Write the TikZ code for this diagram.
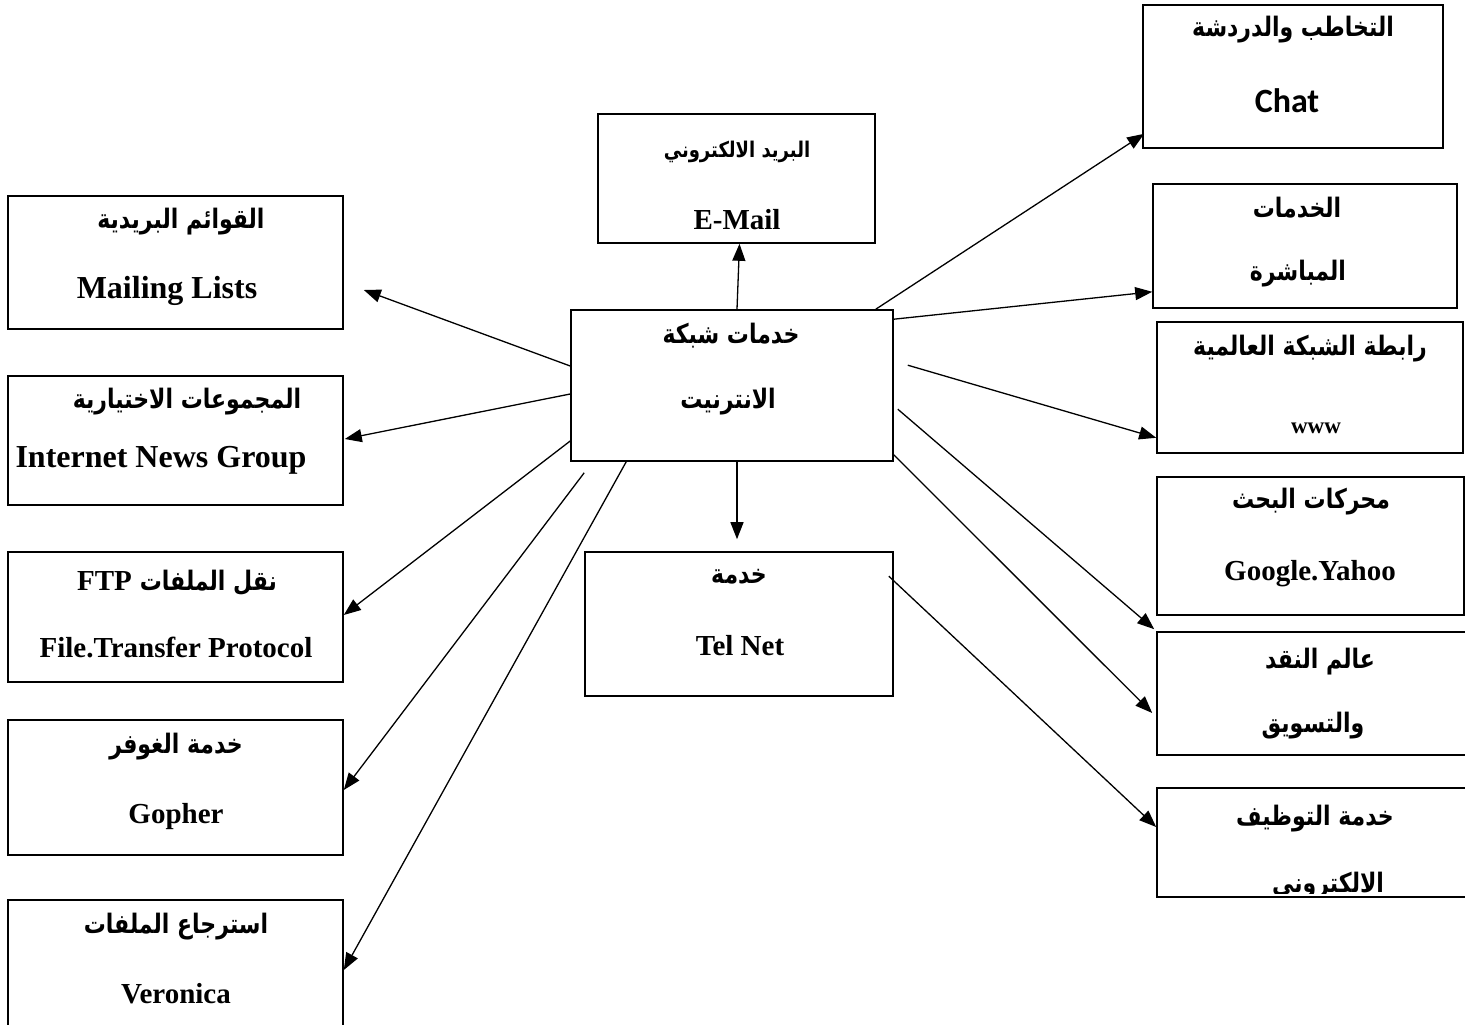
\documentclass[tikz,border=0pt]{standalone}
\usepackage{fontspec}
\setmainfont{Liberation Serif}
\newfontfamily\arabicfont[Script=Arabic]{DejaVu Sans}
\newfontfamily\chatfont{Carlito}
\TeXXeTstate=1
\usetikzlibrary{arrows.meta,fit}

% Arabic label (bold, right to left, slightly tall)
\newcommand{\arb}[1]{\scalebox{1}[1.22]{\arabicfont\bfseries\fontsize{22}{26}\selectfont\beginR #1\endR}}
% Latin label (bold serif)
\newcommand{\lat}[1]{{\bfseries\fontsize{29}{34}\selectfont #1}}

\begin{document}
\begin{tikzpicture}[x=1pt,y=-1pt,
  box/.style={draw, line width=1.6pt, rectangle, inner sep=0pt},
  lbl/.style={inner sep=0pt, anchor=base},
  arr/.style={line width=1.3pt, -{Triangle[length=17pt,width=13pt]}}]
\useasboundingbox (0,0) rectangle (1465,1025);
\clip (0,0) rectangle (1465,1025);

% ---- boxes ----
\node[box, fit={(571,310) (893,461)}] (hub) {};
\node[box, fit={(598,114) (875,243)}] (email) {};
\node[box, fit={(585,552) (893,696)}] (tel) {};

\node[box, fit={(8,196) (343,329)}] (mail) {};
\node[box, fit={(8,376) (343,505)}] (news) {};
\node[box, fit={(8,552) (343,682)}] (ftp) {};
\node[box, fit={(8,720) (343,855)}] (gopher) {};
\node[box, fit={(8,900) (343,1040)}] (vero) {};

\node[box, fit={(1143,5) (1443,148)}] (chat) {};
\node[box, fit={(1153,184) (1457,308)}] (direct) {};
\node[box, fit={(1157,322) (1463,453)}] (www) {};
\node[box, fit={(1157,477) (1464,615)}] (google) {};
\node[box, fit={(1157,632) (1475,755)}] (money) {};
\node[box, fit={(1157,788) (1475,897)}] (hire) {};

% ---- labels ----
\node[lbl] (hubA) at (731,343) {\arb{خدمات شبكة}};
\node[lbl] (hubB) at (728,408) {\arb{الانترنيت}};
\node[lbl] (emailA) at (737,157) {\scalebox{1}[1.2]{\arabicfont\bfseries\fontsize{18}{22}\selectfont\beginR البريد الالكتروني\endR}};
\node[lbl] (emailB) at (737,229) {\lat{E-Mail}};
\node[lbl] (telA) at (739,583) {\arb{خدمة}};
\node[lbl] (telB) at (740,655) {\lat{Tel Net}};

\node[lbl] (mailA) at (181,228) {\arb{القوائم البريدية}};
\node[lbl] (mailB) at (167,298) {{\bfseries\fontsize{32}{36}\selectfont Mailing Lists}};
\node[lbl] (newsA) at (187,408) {\arb{المجموعات الاختيارية}};
\node[lbl] (newsB) at (161,467) {{\bfseries\fontsize{32}{36}\selectfont Internet News Group}};
\node[lbl] (ftpA) at (177,590) {\lat{FTP}\hspace{8pt}\arb{نقل الملفات}};
\node[lbl] (ftpB) at (176,657) {\lat{File.Transfer Protocol}};
\node[lbl] (gopherA) at (176,753) {\arb{خدمة الغوفر}};
\node[lbl] (gopherB) at (176,823) {\lat{Gopher}};
\node[lbl] (veroA) at (176,933) {\arb{استرجاع الملفات}};
\node[lbl] (veroB) at (176,1003) {\lat{Veronica}};

\node[lbl] (chatA) at (1293,37) {\arb{التخاطب والدردشة}};
\node[lbl] (chatB) at (1287,113) {{\chatfont\bfseries\fontsize{34}{38}\selectfont Chat}};
\node[lbl] (directA) at (1297,217) {\arb{الخدمات}};
\node[lbl] (directB) at (1298,280) {\arb{المباشرة}};
\node[lbl] (wwwA) at (1310,355) {\arb{رابطة الشبكة العالمية}};
\node[lbl] (wwwB) at (1316,433) {{\bfseries\fontsize{23}{28}\selectfont www}};
\node[lbl] (googleA) at (1311,508) {\arb{محركات البحث}};
\node[lbl] (googleB) at (1310,580) {\lat{Google.Yahoo}};
\node[lbl] (moneyA) at (1320,668) {\arb{عالم النقد}};
\node[lbl] (moneyB) at (1313,732) {\arb{والتسويق}};
\node[lbl] (hireA) at (1315,825) {\arb{خدمة التوظيف}};
\begin{scope}
  \clip (1157,788) rectangle (1475,893);
  \node[lbl] (hireB) at (1328,892) {\arb{الالكتروني}};
\end{scope}

% ---- connectors ----
\draw[arr] ([xshift=5pt]hub.north) -- ([xshift=3pt]email.south);
\draw[arr] ([xshift=5pt]hub.south) -- ([xshift=-2pt,yshift=12pt]tel.north);

\draw[arr] ([yshift=19.5pt]hub.west) -- ([xshift=20pt,yshift=-27.5pt]mail.east);
\draw[arr] ([yshift=-8.5pt]hub.west) -- ([xshift=1pt,yshift=1.5pt]news.east);
\draw[arr] ([yshift=-55.5pt]hub.west) -- ([yshift=2pt]ftp.east);
\draw[arr] ([xshift=14pt,yshift=-11pt]hub.south west) -- ([yshift=-2.5pt]gopher.east);
\draw[arr] ([xshift=56pt]hub.south west) -- (vero.east);

\draw[arr] ([xshift=-18pt]hub.north east) -- ([xshift=2pt,yshift=15pt]chat.south west);
\draw[arr] ([yshift=-10pt]hub.north east) -- ([yshift=17pt]direct.south west);
\draw[arr] ([xshift=14pt,yshift=-56pt]hub.north east) -- ([yshift=16pt]www.south west);
\draw[arr] ([xshift=4pt,yshift=-100pt]hub.north east) -- ([xshift=-2pt,yshift=2pt]money.north west);
\draw[arr] ([yshift=7pt]hub.south east) -- ([xshift=-4pt,yshift=-19.5pt]money.west);
\draw[arr] ([xshift=-5pt,yshift=-25pt]tel.north east) -- ([yshift=15.5pt]hire.west);
\end{tikzpicture}
\end{document}
